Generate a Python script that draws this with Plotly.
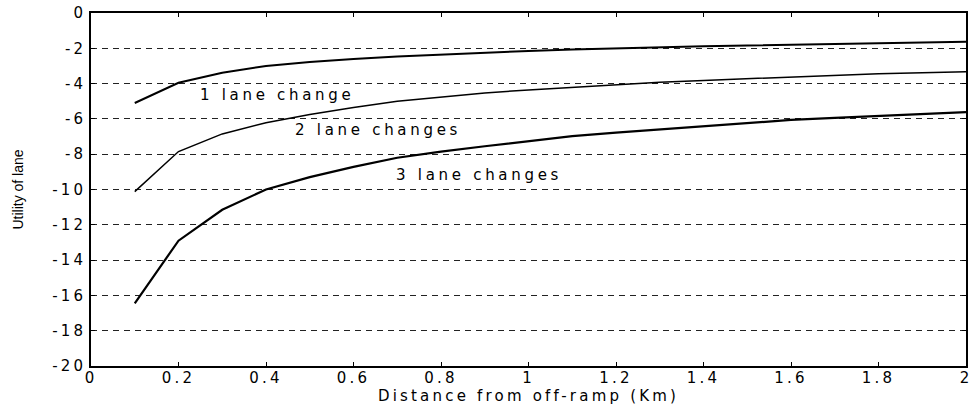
import plotly.graph_objects as go

distance_km = [0.1, 0.2, 0.3, 0.4, 0.5, 0.6, 0.7, 0.8, 0.9, 1.0,
               1.1, 1.2, 1.3, 1.4, 1.5, 1.6, 1.7, 1.8, 1.9, 2.0]
utility_1_lane = [-5.1, -3.95, -3.38, -3.0, -2.78, -2.6, -2.47, -2.36, -2.24, -2.15,
                  -2.07, -2.0, -1.94, -1.89, -1.84, -1.79, -1.75, -1.71, -1.67, -1.63]
utility_2_lanes = [-10.12, -7.85, -6.85, -6.22, -5.75, -5.35, -5.0, -4.75, -4.53, -4.36,
                   -4.2, -4.05, -3.92, -3.82, -3.72, -3.62, -3.52, -3.44, -3.38, -3.33]
utility_3_lanes = [-16.45, -12.9, -11.15, -10.0, -9.3, -8.72, -8.2, -7.85, -7.55, -7.25,
                   -6.98, -6.78, -6.6, -6.42, -6.22, -6.06, -5.94, -5.83, -5.72, -5.62]

labels = ["1 lane change", "2 lane changes", "3 lane changes"]
label_x = [0.426, 0.655, 0.887]
label_y = [-4.65, -6.63, -9.18]

x_ticks = [0, 0.2, 0.4, 0.6, 0.8, 1, 1.2, 1.4, 1.6, 1.8, 2]
x_tick_text = ["0", "0.2", "0.4", "0.6", "0.8", "1", "1.2", "1.4", "1.6", "1.8", "2"]
y_ticks = [0, -2, -4, -6, -8, -10, -12, -14, -16, -18, -20]
y_tick_text = ["0", "-2", "-4", "-6", "-8", "-10", "-12", "-14", "-16", "-18", "-20"]

FONT = "DejaVu Sans, Verdana, sans-serif"

fig = go.Figure()
for ys, w in [(utility_1_lane, 2), (utility_2_lanes, 1.5), (utility_3_lanes, 2.2)]:
    fig.add_trace(go.Scatter(x=distance_km, y=ys, mode="lines",
                             line=dict(color="black", width=w), showlegend=False,
                             hoverinfo="skip"))

for t, x, y in zip(labels, label_x, label_y):
    fig.add_annotation(x=x, y=y, text=t, showarrow=False,
                       font=dict(family=FONT, size=15, color="black"))

fig.update_layout(
    width=972, height=405,
    margin=dict(l=91, r=6, t=13, b=39),
    paper_bgcolor="white", plot_bgcolor="white",
    font=dict(family=FONT, size=15, color="black"),
)
fig.update_xaxes(
    range=[0, 2], tickvals=x_ticks, ticktext=x_tick_text,
    showline=True, linecolor="black", linewidth=1.5, mirror="ticks",
    ticks="inside", ticklen=4, tickcolor="black",
    showgrid=False, zeroline=False, automargin=False,
    ticklabelstandoff=-3,
    title=dict(text="Distance from off-ramp (Km)", standoff=0,
               font=dict(family=FONT, size=15)),
    tickfont=dict(size=15),
)
fig.update_yaxes(
    range=[-20, 0], tickvals=y_ticks, ticktext=y_tick_text,
    showline=True, linecolor="black", linewidth=1.5, mirror="ticks",
    ticks="inside", ticklen=4, tickcolor="black",
    showgrid=True, gridcolor="#222222", gridwidth=1.2, griddash="6px,5px",
    zeroline=False, automargin=False,
    title=dict(text="Utility of lane", standoff=35,
               font=dict(family="Liberation Sans, Arial, sans-serif", size=14)),
    tickfont=dict(size=15),
)

post = """
document.body.style.margin='0';
var gd = document.getElementsByClassName('plotly-graph-div')[0];
gd.querySelectorAll('.xtick text, .ytick text, .g-xtitle text').forEach(function(t){
  t.style.letterSpacing='3.2px';
});
gd.querySelectorAll('.annotation-text').forEach(function(t){
  t.style.letterSpacing='3.7px';
});
"""
fig.write_html("out.html", post_script=post, config={"displayModeBar": False})
